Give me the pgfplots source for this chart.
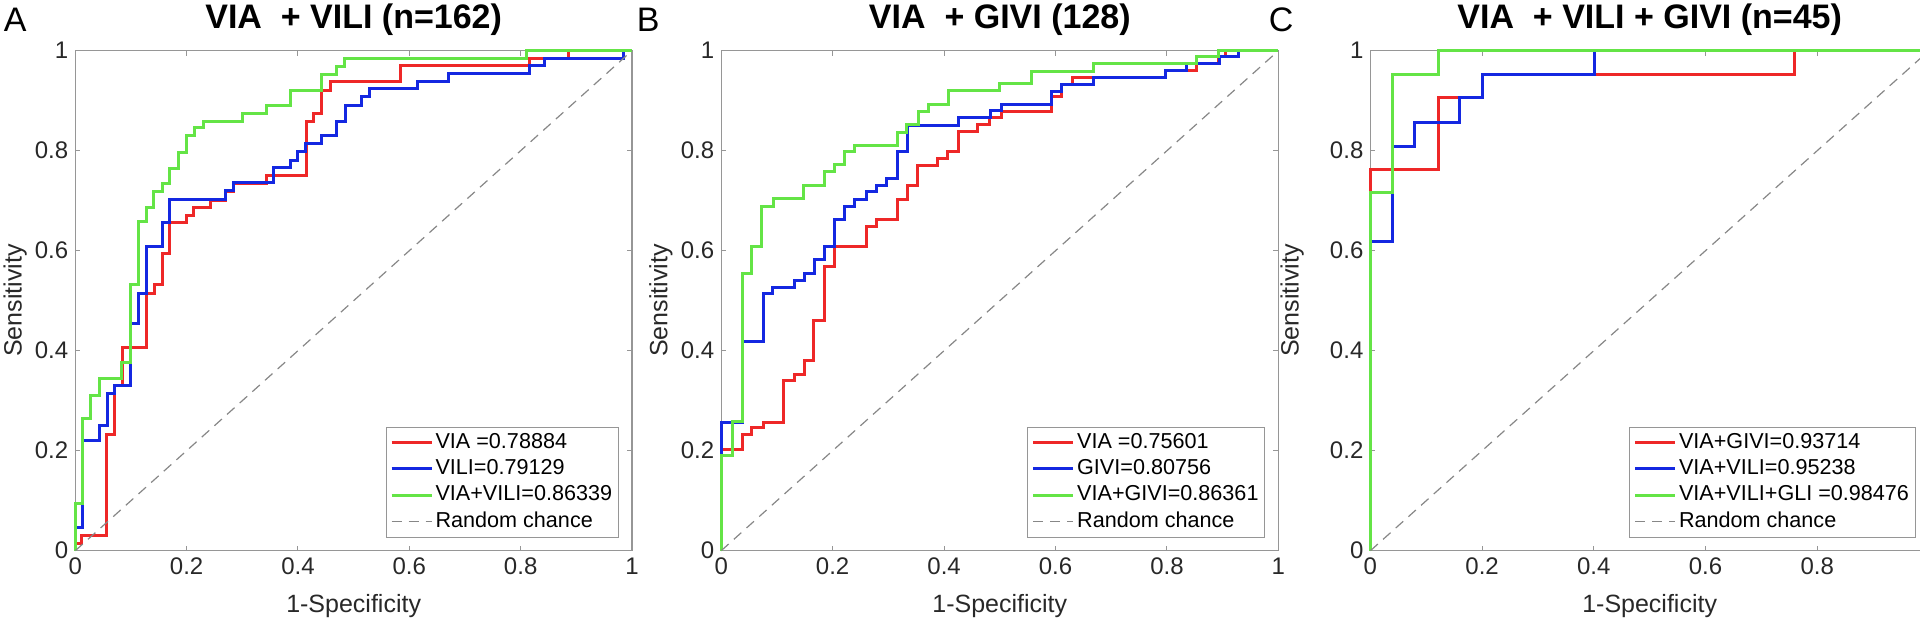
\documentclass[border=0pt]{standalone}
\usepackage{fontspec}
\setmainfont{Liberation Sans}
\usepackage{pgfplots}
\pgfplotsset{compat=1.18}

\definecolor{cRed}{RGB}{238,40,40}
\definecolor{cBlue}{RGB}{20,40,225}
\definecolor{cGreen}{RGB}{100,228,70}
\definecolor{cAx}{RGB}{150,150,150}
\definecolor{cTxt}{RGB}{40,40,40}
\definecolor{cDash}{RGB}{135,135,135}

\pgfplotsset{
 rocax/.style={
  scale only axis, height=250pt,
  xmin=0,xmax=1,ymin=0,ymax=1, clip=false,
  xtick={0,0.2,0.4,0.6,0.8,1}, ytick={0,0.2,0.4,0.6,0.8,1},
  tick align=inside, major tick length=2.5pt,
  axis line style={draw=cAx, line width=0.6pt},
  tick style={draw=cAx, line width=0.5pt},
  tick label style={font=\fontsize{12}{14}\selectfont, text=cTxt},
  /pgf/number format/assume math mode=true,
  xlabel={1-Specificity}, ylabel={Sensitivity},
  every axis x label/.style={at={(axis description cs:0.5,-0.11)}, anchor=center,
    font=\fontsize{12.5}{14}\selectfont, text=cTxt},
  every axis y label/.style={at={(axis description cs:-0.108,0.5)}, anchor=center, rotate=90,
    font=\fontsize{12.5}{14}\selectfont, text=cTxt},
  title style={font=\bfseries\fontsize{17}{19}\selectfont, at={(axis description cs:0.5,1.038)}, anchor=center},
  legend style={at={(axis description cs:1,0)}, anchor=south east, xshift=-6.5pt, yshift=6.5pt,
    draw=cAx, line width=0.5pt, font=\fontsize{10.8}{12}\selectfont,
    inner xsep=2pt, inner ysep=1.5pt, row sep=0.8pt,
    nodes={inner sep=1.2pt, text height=7.8pt, text depth=2.2pt}},
  legend cell align=left,
  legend image code/.code={\draw[##1] (0pt,0pt) -- (20pt,0pt);},
 },
 rr/.style={cRed, line width=1.5pt},
 bb/.style={cBlue, line width=1.5pt},
 gg/.style={cGreen, line width=1.5pt},
 dd/.style={cDash, line width=0.6pt, dash pattern=on 5pt off 3.5pt},
}

\begin{document}
\begin{tikzpicture}
\useasboundingbox (0,0) rectangle (960pt,312pt);

% ---------------- Panel A ----------------
\begin{axis}[rocax, at={(37.65pt,36.65pt)}, anchor=south west, width=278.35pt,
  title={VIA~~+ VILI (n=162)}]
\addplot[rr] coordinates {(0,0) (0,0.015) (0.012,0.015) (0.012,0.03) (0.056,0.03) (0.056,0.232) (0.07,0.232) (0.07,0.33) (0.085,0.33) (0.085,0.407) (0.128,0.407) (0.128,0.515) (0.142,0.515) (0.142,0.533) (0.156,0.533) (0.156,0.595) (0.17,0.595) (0.17,0.657) (0.199,0.657) (0.199,0.671) (0.213,0.671) (0.213,0.686) (0.242,0.686) (0.242,0.701) (0.27,0.701) (0.27,0.718) (0.285,0.718) (0.285,0.735) (0.343,0.735) (0.343,0.75) (0.416,0.75) (0.416,0.859) (0.428,0.859) (0.428,0.875) (0.443,0.875) (0.443,0.921) (0.458,0.921) (0.458,0.939) (0.585,0.939) (0.585,0.970) (0.816,0.970) (0.816,0.984) (0.886,0.984) (0.886,1) (1,1)};
\addlegendentry{VIA =0.78884}
\addplot[bb] coordinates {(0,0) (0,0.046) (0.013,0.046) (0.013,0.22) (0.043,0.22) (0.043,0.25) (0.057,0.25) (0.057,0.315) (0.07,0.315) (0.07,0.33) (0.1,0.33) (0.1,0.455) (0.113,0.455) (0.113,0.515) (0.128,0.515) (0.128,0.609) (0.156,0.609) (0.156,0.657) (0.17,0.657) (0.17,0.703) (0.269,0.703) (0.269,0.72) (0.284,0.72) (0.284,0.736) (0.356,0.736) (0.356,0.766) (0.386,0.766) (0.386,0.781) (0.4,0.781) (0.4,0.798) (0.414,0.798) (0.414,0.815) (0.443,0.815) (0.443,0.83) (0.47,0.83) (0.47,0.859) (0.486,0.859) (0.486,0.891) (0.514,0.891) (0.514,0.908) (0.529,0.908) (0.529,0.925) (0.615,0.925) (0.615,0.938) (0.67,0.938) (0.67,0.955) (0.816,0.955) (0.816,0.97) (0.842,0.97) (0.842,0.984) (0.984,0.984) (0.984,1) (1,1)};
\addlegendentry{VILI=0.79129}
\addplot[gg] coordinates {(0,0) (0,0.095) (0.013,0.095) (0.013,0.265) (0.028,0.265) (0.028,0.31) (0.043,0.31) (0.043,0.344) (0.083,0.344) (0.083,0.377) (0.1,0.377) (0.1,0.533) (0.113,0.533) (0.113,0.658) (0.128,0.658) (0.128,0.687) (0.14,0.687) (0.14,0.718) (0.156,0.718) (0.156,0.735) (0.17,0.735) (0.17,0.765) (0.185,0.765) (0.185,0.797) (0.199,0.797) (0.199,0.83) (0.215,0.83) (0.215,0.846) (0.23,0.846) (0.23,0.859) (0.3,0.859) (0.3,0.875) (0.343,0.875) (0.343,0.89) (0.386,0.89) (0.386,0.921) (0.443,0.921) (0.443,0.953) (0.47,0.953) (0.47,0.969) (0.484,0.969) (0.484,0.984) (0.811,0.984) (0.811,1) (1,1)};
\addlegendentry{VIA+VILI=0.86339}
\addplot[dd] coordinates {(0,0) (1,1)};
\addlegendentry{Random chance}
\node[font=\fontsize{17}{19}\selectfont, text=black] at (axis description cs:-0.108,1.062) {A};
\end{axis}

% ---------------- Panel B ----------------
\begin{axis}[rocax, at={(360.6pt,36.65pt)}, anchor=south west, width=278.6pt,
  title={VIA~~+ GIVI (128)}]
\addplot[rr] coordinates {(0,0) (0,0.203) (0.0385,0.203) (0.0385,0.232) (0.054,0.232) (0.054,0.246) (0.075,0.246) (0.075,0.256) (0.111,0.256) (0.111,0.34) (0.131,0.34) (0.131,0.352) (0.149,0.352) (0.149,0.381) (0.166,0.381) (0.166,0.46) (0.185,0.46) (0.185,0.568) (0.203,0.568) (0.203,0.609) (0.261,0.609) (0.261,0.648) (0.279,0.648) (0.279,0.663) (0.317,0.663) (0.317,0.703) (0.335,0.703) (0.335,0.731) (0.353,0.731) (0.353,0.77) (0.389,0.77) (0.389,0.785) (0.406,0.785) (0.406,0.798) (0.426,0.798) (0.426,0.839) (0.46,0.839) (0.46,0.853) (0.482,0.853) (0.482,0.867) (0.503,0.867) (0.503,0.879) (0.593,0.879) (0.593,0.908) (0.611,0.908) (0.611,0.933) (0.63,0.933) (0.63,0.946) (0.797,0.946) (0.797,0.961) (0.853,0.961) (0.853,0.975) (0.892,0.975) (0.892,0.988) (0.905,0.988) (0.905,1) (1,1)};
\addlegendentry{VIA =0.75601}
\addplot[bb] coordinates {(0,0) (0,0.256) (0.0385,0.256) (0.0385,0.418) (0.0757,0.418) (0.0757,0.515) (0.092,0.515) (0.092,0.527) (0.131,0.527) (0.131,0.541) (0.149,0.541) (0.149,0.555) (0.168,0.555) (0.168,0.583) (0.186,0.583) (0.186,0.609) (0.204,0.609) (0.204,0.663) (0.222,0.663) (0.222,0.689) (0.24,0.689) (0.24,0.703) (0.26,0.703) (0.26,0.718) (0.279,0.718) (0.279,0.731) (0.296,0.731) (0.296,0.745) (0.317,0.745) (0.317,0.799) (0.335,0.799) (0.335,0.851) (0.426,0.851) (0.426,0.867) (0.484,0.867) (0.484,0.881) (0.503,0.881) (0.503,0.893) (0.593,0.893) (0.593,0.918) (0.611,0.918) (0.611,0.933) (0.668,0.933) (0.668,0.946) (0.797,0.946) (0.797,0.961) (0.835,0.961) (0.835,0.975) (0.894,0.975) (0.894,0.988) (0.928,0.988) (0.928,1) (1,1)};
\addlegendentry{GIVI=0.80756}
\addplot[gg] coordinates {(0,0) (0,0.191) (0.02,0.191) (0.02,0.258) (0.0385,0.258) (0.0385,0.555) (0.055,0.555) (0.055,0.609) (0.073,0.609) (0.073,0.689) (0.094,0.689) (0.094,0.705) (0.147,0.705) (0.147,0.73) (0.186,0.73) (0.186,0.758) (0.204,0.758) (0.204,0.773) (0.222,0.773) (0.222,0.798) (0.24,0.798) (0.24,0.811) (0.317,0.811) (0.317,0.837) (0.333,0.837) (0.333,0.853) (0.354,0.853) (0.354,0.878) (0.372,0.878) (0.372,0.893) (0.408,0.893) (0.408,0.921) (0.5,0.921) (0.5,0.935) (0.557,0.935) (0.557,0.959) (0.668,0.959) (0.668,0.975) (0.853,0.975) (0.853,0.988) (0.892,0.988) (0.892,1) (1,1)};
\addlegendentry{VIA+GIVI=0.86361}
\addplot[dd] coordinates {(0,0) (1,1)};
\addlegendentry{Random chance}
\node[font=\fontsize{17}{19}\selectfont, text=black] at (axis description cs:-0.131,1.062) {B};
\end{axis}

% ---------------- Panel C ----------------
\begin{axis}[rocax, at={(685.2pt,36.65pt)}, anchor=south west, width=279.25pt,
  xtick={0,0.2,0.4,0.6,0.8},
  every axis y label/.append style={at={(axis description cs:-0.14,0.5)}},
  title={VIA~~+ VILI + GIVI (n=45)}]
\addplot[rr] coordinates {(0,0) (0,0.762) (0.121,0.762) (0.121,0.906) (0.2,0.906) (0.2,0.953) (0.76,0.953) (0.76,1) (1,1)};
\addlegendentry{VIA+GIVI=0.93714}
\addplot[bb] coordinates {(0,0) (0,0.618) (0.04,0.618) (0.04,0.809) (0.079,0.809) (0.079,0.857) (0.159,0.857) (0.159,0.906) (0.2,0.906) (0.2,0.953) (0.401,0.953) (0.401,1) (1,1)};
\addlegendentry{VIA+VILI=0.95238}
\addplot[gg] coordinates {(0,0) (0,0.716) (0.04,0.716) (0.04,0.953) (0.122,0.953) (0.122,1) (1,1)};
\addlegendentry{VIA+VILI+GLI =0.98476}
\addplot[dd] coordinates {(0,0) (1,1)};
\addlegendentry{Random chance}
\node[font=\fontsize{17}{19}\selectfont, text=black] at (axis description cs:-0.16,1.062) {C};
\end{axis}
\end{tikzpicture}
\end{document}
